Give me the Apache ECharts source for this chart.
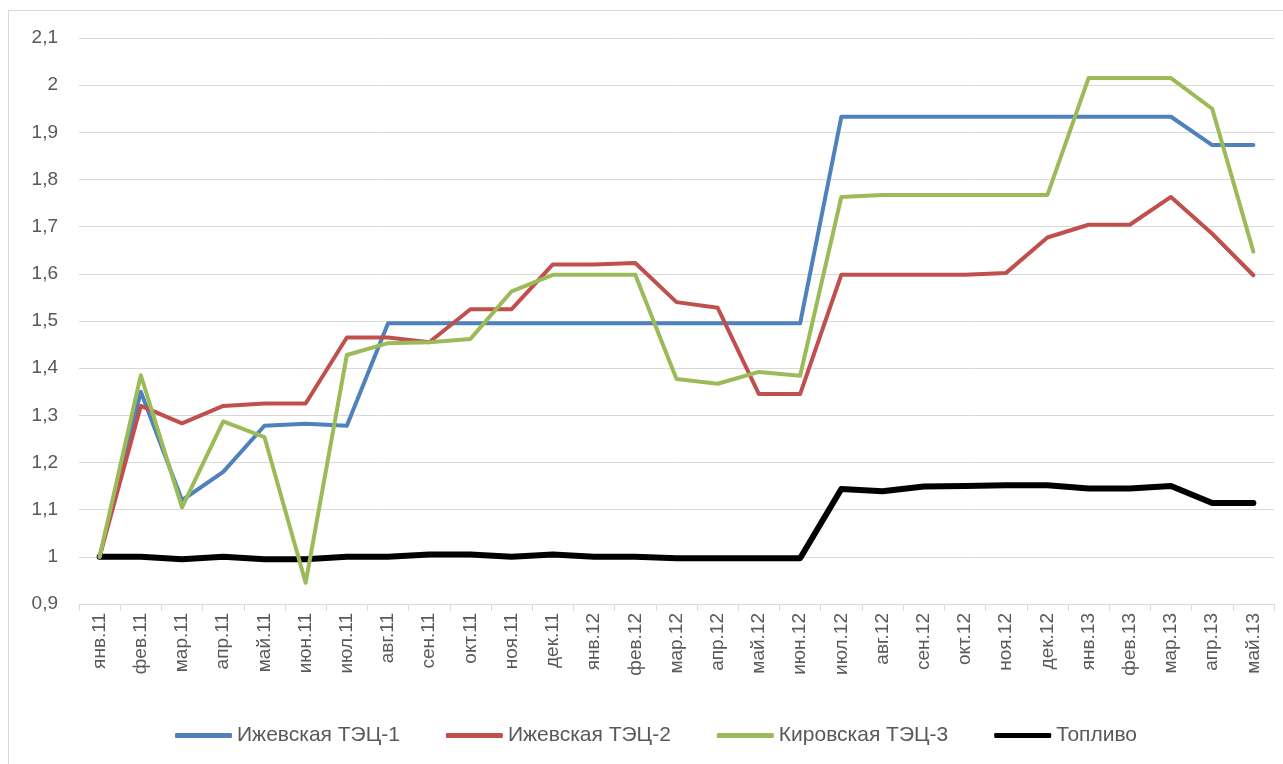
<!DOCTYPE html>
<html><head><meta charset="utf-8">
<script src="https://cdn.jsdelivr.net/npm/echarts@6/dist/echarts.min.js"></script>
<style>html,body{margin:0;padding:0;background:#fff;overflow:hidden;}
#wrap{position:relative;width:1283px;height:764px;overflow:hidden;}
#frame{position:absolute;left:8px;top:10px;width:1400px;height:900px;border:1px solid #d9d9d9;box-sizing:border-box;}
#c{position:absolute;left:0;top:0;width:1283px;height:764px;}</style>
</head><body><div id="wrap"><div id="frame"></div><div id="c"></div></div>
<script>
const categories = ['янв.11','фев.11','мар.11','апр.11','май.11','июн.11','июл.11','авг.11','сен.11','окт.11','ноя.11','дек.11','янв.12','фев.12','мар.12','апр.12','май.12','июн.12','июл.12','авг.12','сен.12','окт.12','ноя.12','дек.12','янв.13','фев.13','мар.13','апр.13','май.13'];
const izh1 = [1.0,1.35,1.12,1.18,1.278,1.282,1.278,1.495,1.495,1.495,1.495,1.495,1.495,1.495,1.495,1.495,1.495,1.495,1.933,1.933,1.933,1.933,1.933,1.933,1.933,1.933,1.933,1.873,1.873];
const izh2 = [1.0,1.32,1.283,1.32,1.325,1.325,1.465,1.465,1.455,1.525,1.525,1.62,1.62,1.623,1.54,1.528,1.345,1.345,1.598,1.598,1.598,1.598,1.602,1.677,1.704,1.704,1.763,1.685,1.597];
const kir3 = [1.0,1.385,1.105,1.287,1.254,0.945,1.428,1.453,1.455,1.462,1.563,1.598,1.598,1.598,1.377,1.367,1.392,1.384,1.763,1.767,1.767,1.767,1.767,1.767,2.015,2.015,2.015,1.95,1.647];
const fuel = [1.0,1.0,0.995,1.0,0.995,0.995,1.0,1.0,1.005,1.005,1.0,1.005,1.0,1.0,0.997,0.997,0.997,0.997,1.144,1.139,1.149,1.15,1.152,1.152,1.145,1.145,1.15,1.114,1.114];
const seriesNames = ['Ижевская ТЭЦ-1','Ижевская ТЭЦ-2','Кировская ТЭЦ-3','Топливо'];
const colors = ['#4F81BD','#C0504D','#9BBB59','#000000'];
const widths = [4,4,4,6];
const dataSets = [izh1, izh2, kir3, fuel];
const font = '"Liberation Sans", Arial, sans-serif';
const chart = echarts.init(document.getElementById('c'));
chart.setOption({
  animation:false,
  color: colors,
  grid:{left:79,right:9,top:38,bottom:160},
  legend:{
    left:170, top:720, itemWidth:57, itemHeight:5, itemGap:46, icon:'roundRect',
    textStyle:{fontFamily:font,fontSize:21,color:'#595959'},
    data: seriesNames
  },
  xAxis:{
    type:'category', data:categories, boundaryGap:true,
    axisLine:{lineStyle:{color:'#d9d9d9',width:1}},
    axisTick:{show:true,length:7,lineStyle:{color:'#d9d9d9'}},
    axisLabel:{rotate:90,margin:9,fontFamily:font,fontSize:19,color:'#595959',interval:0}
  },
  yAxis:{
    type:'value', min:0.9, max:2.1, interval:0.1,
    axisLine:{show:false}, axisTick:{show:false},
    splitLine:{lineStyle:{color:'#d9d9d9',width:1}},
    axisLabel:{margin:21,fontFamily:font,fontSize:19,color:'#595959',
      formatter:v=>{let s=(Math.round(v*10)/10).toFixed(1); if(s.endsWith('.0')) s=s.slice(0,-2); return s.replace('.',',');}}
  },
  series: dataSets.map((d,i)=>({
    name:seriesNames[i], type:'line', data:d, symbol:'none', smooth:false,
    lineStyle:{color:colors[i],width:widths[i],cap:'round',join:'round'},
    itemStyle:{color:colors[i]}, z: i===3?1:2
  }))
});
</script></body></html>
